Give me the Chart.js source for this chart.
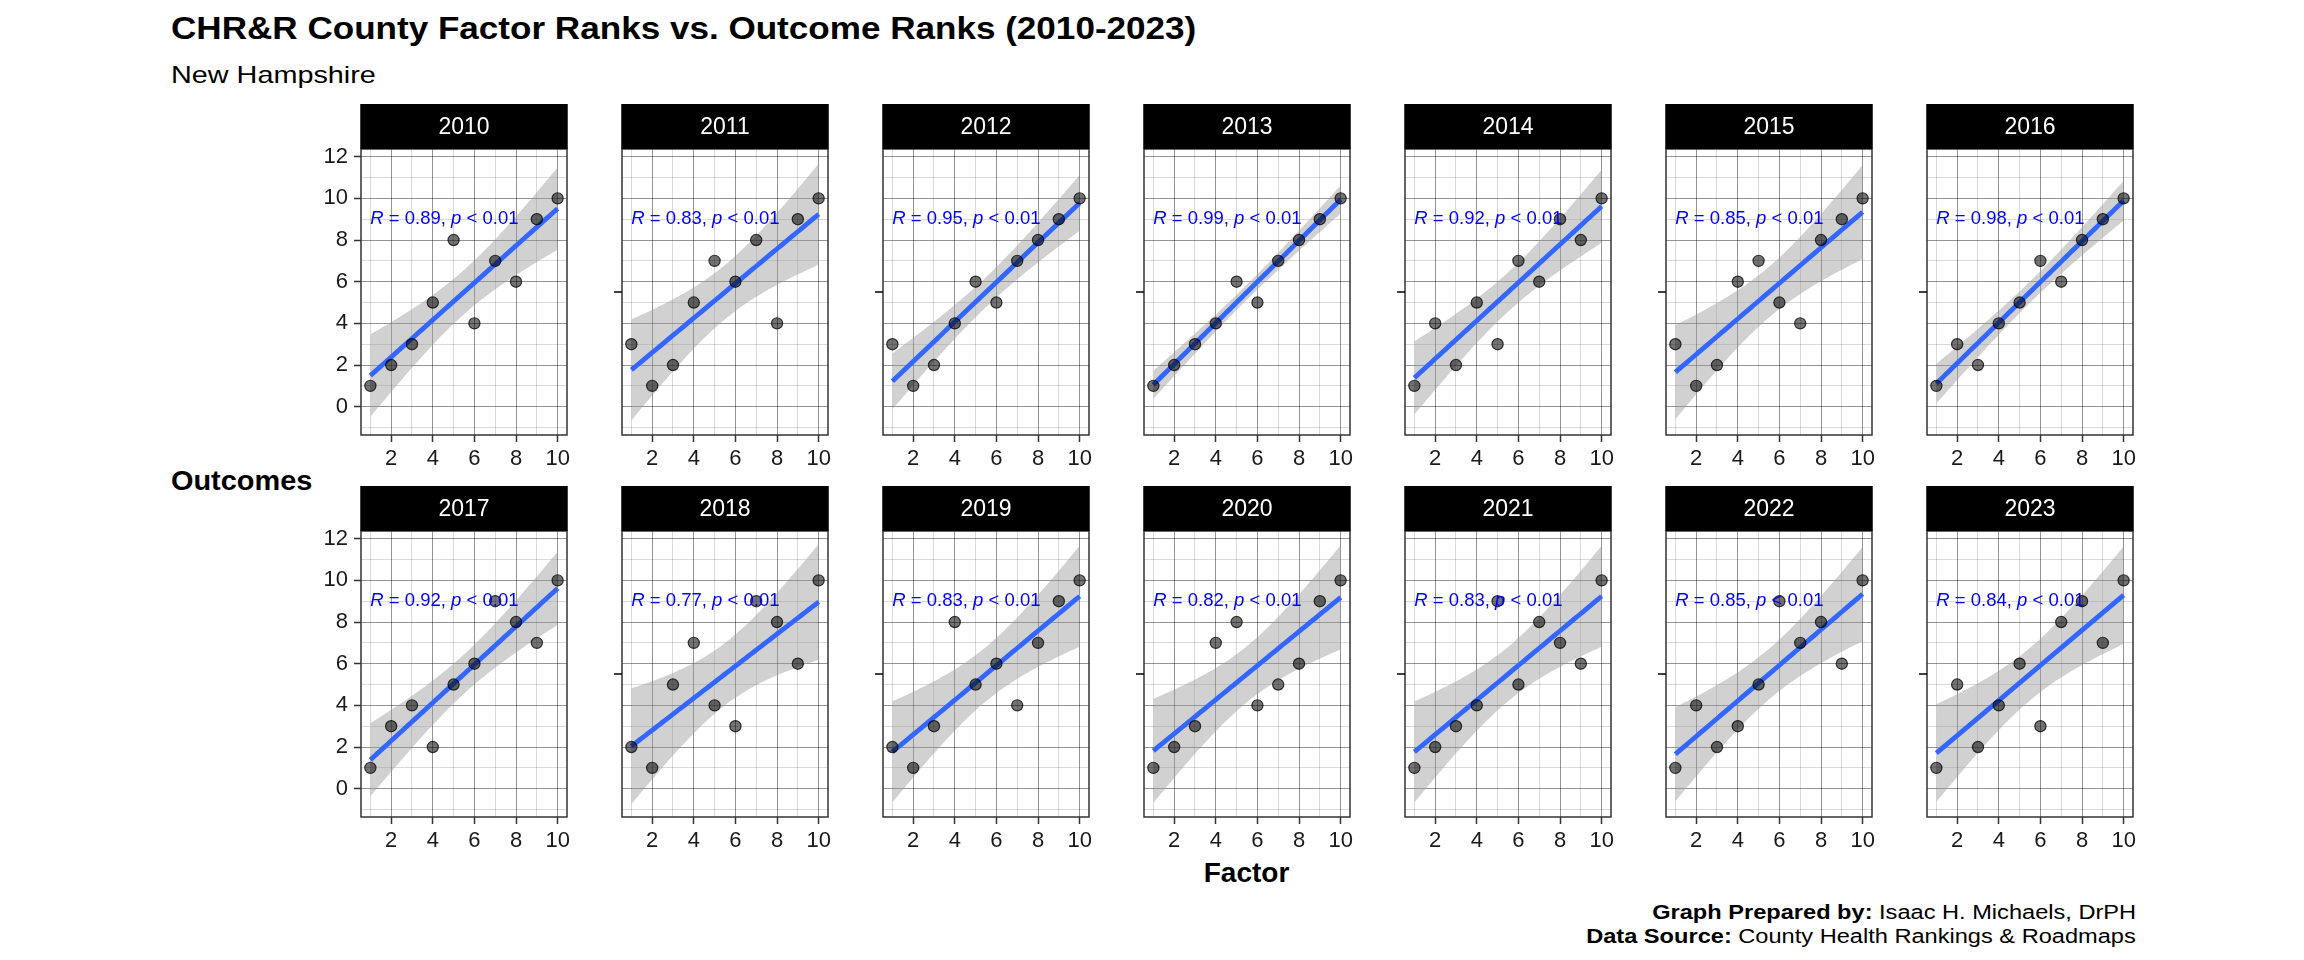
<!DOCTYPE html>
<html>
<head>
<meta charset="UTF-8">
<title>CHR&amp;R County Factor Ranks vs. Outcome Ranks</title>
<style>
  body { margin: 0; background: #fff; }
  #page {
    position: relative;
    width: 2304px;
    height: 960px;
    overflow: hidden;
    background: #fff;
    font-family: "Liberation Sans", Arial, sans-serif;
    color: #000;
  }
  .txt { position: absolute; white-space: nowrap; line-height: 1; }
  canvas.panel { position: absolute; }
</style>
<script src="https://cdn.jsdelivr.net/npm/chart.js"></script>
</head>
<body>
<div id="page">
  <div class="txt" style="left:171px; top:12.5px; font-size:30.5px; font-weight:bold; transform:scaleX(1.15); transform-origin:left;">CHR&amp;R County Factor Ranks vs. Outcome Ranks (2010-2023)</div>
  <div class="txt" style="left:171px; top:63px; font-size:24px; transform:scaleX(1.2); transform-origin:left;">New Hampshire</div>
  <div class="txt" style="left:171px; top:468px; font-size:27px; font-weight:bold; transform:scaleX(1.07); transform-origin:left;">Outcomes</div>
  <div class="txt" style="left:1246.5px; top:859px; font-size:28px; font-weight:bold; transform:translateX(-50%);">Factor</div>
  <div class="txt" style="right:168px; top:902px; font-size:20px; transform:scaleX(1.18); transform-origin:right;"><b>Graph Prepared by:</b> Isaac H. Michaels, DrPH</div>
  <div class="txt" style="right:168px; top:926px; font-size:20px; transform:scaleX(1.18); transform-origin:right;"><b>Data Source:</b> County Health Rankings &amp; Roadmaps</div>
</div>
<script>
// facet years and x values (factor ranks)
const years = [2010, 2011, 2012, 2013, 2014, 2015, 2016,
               2017, 2018, 2019, 2020, 2021, 2022, 2023];
const factorRanks = [1, 2, 3, 4, 5, 6, 7, 8, 9, 10];

// outcome ranks, one per county, in factor rank order
const outcome2010 = [1, 2, 3, 5, 8, 4, 7, 6, 9, 10];
const outcome2011 = [3, 1, 2, 5, 7, 6, 8, 4, 9, 10];
const outcome2012 = [3, 1, 2, 4, 6, 5, 7, 8, 9, 10];
const outcome2013 = [1, 2, 3, 4, 6, 5, 7, 8, 9, 10];
const outcome2014 = [1, 4, 2, 5, 3, 7, 6, 9, 8, 10];
const outcome2015 = [3, 1, 2, 6, 7, 5, 4, 8, 9, 10];
const outcome2016 = [1, 3, 2, 4, 5, 7, 6, 8, 9, 10];
const outcome2017 = [1, 3, 4, 2, 5, 6, 9, 8, 7, 10];
const outcome2018 = [2, 1, 5, 7, 4, 3, 9, 8, 6, 10];
const outcome2019 = [2, 1, 3, 8, 5, 6, 4, 7, 9, 10];
const outcome2020 = [1, 2, 3, 7, 8, 4, 5, 6, 9, 10];
const outcome2021 = [1, 2, 3, 4, 9, 5, 8, 7, 6, 10];
const outcome2022 = [1, 4, 2, 3, 5, 9, 7, 8, 6, 10];
const outcome2023 = [1, 5, 2, 4, 6, 3, 8, 9, 7, 10];

// correlation labels as printed on each facet
const rLabels = ['0.89', '0.83', '0.95', '0.99', '0.92', '0.85', '0.98',
                 '0.92', '0.77', '0.83', '0.82', '0.83', '0.85', '0.84'];
const pLabel = '0.01';

const outcomesByYear = {
  2010: outcome2010, 2011: outcome2011, 2012: outcome2012, 2013: outcome2013,
  2014: outcome2014, 2015: outcome2015, 2016: outcome2016, 2017: outcome2017,
  2018: outcome2018, 2019: outcome2019, 2020: outcome2020, 2021: outcome2021,
  2022: outcome2022, 2023: outcome2023
};

const FONT = '"Liberation Sans", Arial, sans-serif';
const panelLefts = [361, 622, 883, 1144, 1405, 1666, 1927];
const stripTops = [104, 485.7];
const PANEL_W = 206, PANEL_H = 286, STRIP_H = 45;
const AXIS_W = 80, AXIS_H = 50, PAD_R = 24;

// linear fit + 95% confidence band, like geom_smooth(method = "lm")
function lmBand(xs, ys) {
  const n = xs.length;
  const xbar = xs.reduce((a, b) => a + b, 0) / n;
  const ybar = ys.reduce((a, b) => a + b, 0) / n;
  let sxx = 0, sxy = 0;
  xs.forEach((x, i) => { sxx += (x - xbar) ** 2; sxy += (x - xbar) * (ys[i] - ybar); });
  const slope = sxy / sxx, icpt = ybar - slope * xbar;
  let sse = 0;
  xs.forEach((x, i) => { sse += (ys[i] - icpt - slope * x) ** 2; });
  const s = Math.sqrt(sse / (n - 2));
  const t = 2.306; // qt(0.975, 8)
  const fit = [], upper = [], lower = [];
  const lo = Math.min(...xs), hi = Math.max(...xs);
  for (let i = 0; i < 80; i++) {
    const x = lo + (hi - lo) * i / 79;
    const yh = icpt + slope * x;
    const se = s * Math.sqrt(1 / n + (x - xbar) ** 2 / sxx);
    fit.push({x, y: yh});
    upper.push({x, y: yh + t * se});
    lower.push({x, y: yh - t * se});
  }
  return {fit, upper, lower};
}

function decorPlugin(year, rLabel, firstCol) {
  return {
    id: 'decor' + year,
    afterDatasetsDraw(chart) {
      const {ctx, scales} = chart;
      ctx.save();
      // correlation label
      let x = scales.x.getPixelForValue(1);
      const y = scales.y.getPixelForValue(9);
      ctx.fillStyle = '#0000ff';
      ctx.textBaseline = 'middle';
      ctx.textAlign = 'left';
      const parts = [['italic', 'R'], ['normal', ' = ' + rLabel + ', '], ['italic', 'p'], ['normal', ' < ' + pLabel]];
      parts.forEach(([style, str]) => {
        ctx.font = style + ' 18.5px ' + FONT;
        ctx.fillText(str, x, y);
        x += ctx.measureText(str).width;
      });
      ctx.restore();
    },
    afterDraw(chart) {
      const {ctx, chartArea: a} = chart;
      ctx.save();
      // panel border
      ctx.strokeStyle = '#333';
      ctx.lineWidth = 1.5;
      ctx.strokeRect(a.left, a.top, a.right - a.left, a.bottom - a.top);
      // facet strip
      ctx.fillStyle = '#000';
      ctx.fillRect(a.left - 0.75, a.top - STRIP_H, a.right - a.left + 1.5, STRIP_H);
      ctx.fillStyle = '#fff';
      ctx.font = '23px ' + FONT;
      ctx.textAlign = 'center';
      ctx.textBaseline = 'middle';
      ctx.fillText(String(year), (a.left + a.right) / 2, a.top - STRIP_H / 2 + 1);
      // stray centre tick on inner panels
      if (!firstCol) {
        const my = (a.top + a.bottom) / 2;
        ctx.strokeStyle = '#000';
        ctx.lineWidth = 1.5;
        ctx.beginPath();
        ctx.moveTo(a.left - 8, my);
        ctx.lineTo(a.left, my);
        ctx.stroke();
      }
      ctx.restore();
    }
  };
}

const isMajor = v => Math.abs(Math.round(v)) % 2 === 0;
const gridColor = ctx => (ctx.tick && isMajor(ctx.tick.value)) ? 'rgba(0,0,0,0.42)' : 'rgba(0,0,0,0.15)';

years.forEach((year, idx) => {
  const row = Math.floor(idx / 7), col = idx % 7;
  const ys = outcomesByYear[year];
  const band = lmBand(factorRanks, ys);
  const firstCol = col === 0;

  const canvas = document.createElement('canvas');
  canvas.className = 'panel';
  canvas.width = AXIS_W + PANEL_W + PAD_R;
  canvas.height = STRIP_H + PANEL_H + AXIS_H;
  canvas.style.left = (panelLefts[col] - AXIS_W) + 'px';
  canvas.style.top = stripTops[row] + 'px';
  document.getElementById('page').appendChild(canvas);

  new Chart(canvas.getContext('2d'), {
    type: 'scatter',
    data: {
      datasets: [
        {
          data: factorRanks.map((x, i) => ({x, y: ys[i]})),
          backgroundColor: 'rgba(0,0,0,0.55)',
          borderColor: 'rgba(0,0,0,0.75)',
          borderWidth: 1.2,
          pointRadius: 5.6
        },
        {
          data: band.fit,
          showLine: true,
          borderColor: '#3366FF',
          borderWidth: 4.8,
          pointRadius: 0,
          fill: false
        },
        {
          data: band.upper,
          showLine: true,
          borderWidth: 0,
          borderColor: 'rgba(0,0,0,0)',
          pointRadius: 0,
          fill: false
        },
        {
          data: band.lower,
          showLine: true,
          borderWidth: 0,
          borderColor: 'rgba(0,0,0,0)',
          backgroundColor: 'rgba(153,153,153,0.45)',
          pointRadius: 0,
          fill: '-1'
        }
      ]
    },
    options: {
      responsive: false,
      animation: false,
      layout: { padding: { top: STRIP_H, right: PAD_R, left: 0, bottom: 0 } },
      plugins: { legend: { display: false }, tooltip: { enabled: false } },
      scales: {
        x: {
          type: 'linear',
          min: 0.55, max: 10.45,
          afterFit: s => { s.height = AXIS_H; },
          border: { display: false },
          grid: {
            color: gridColor,
            lineWidth: 1,
            drawTicks: true,
            tickLength: 7,
            tickWidth: 1.5,
            tickColor: ctx => (ctx.tick && isMajor(ctx.tick.value)) ? '#333' : 'rgba(0,0,0,0)'
          },
          ticks: {
            stepSize: 1,
            includeBounds: false,
            autoSkip: false,
            maxRotation: 0, minRotation: 0,
            padding: 4,
            color: '#1a1a1a',
            font: { family: FONT, size: 22 },
            callback: v => isMajor(v) ? String(v) : ''
          }
        },
        y: {
          type: 'linear',
          min: -1.36, max: 12.37,
          afterFit: s => { s.width = AXIS_W; },
          border: { display: false },
          grid: {
            color: gridColor,
            lineWidth: 1,
            drawTicks: true,
            tickLength: 7,
            tickWidth: 1.5,
            tickColor: ctx => (firstCol && ctx.tick && isMajor(ctx.tick.value)) ? '#333' : 'rgba(0,0,0,0)'
          },
          ticks: {
            stepSize: 1,
            includeBounds: false,
            autoSkip: false,
            padding: 6,
            color: '#1a1a1a',
            font: { family: FONT, size: 22 },
            callback: v => (firstCol && isMajor(v) && v >= 0) ? String(v) : ''
          }
        }
      }
    },
    plugins: [decorPlugin(year, rLabels[idx], firstCol)]
  });
});
</script>
</body>
</html>
